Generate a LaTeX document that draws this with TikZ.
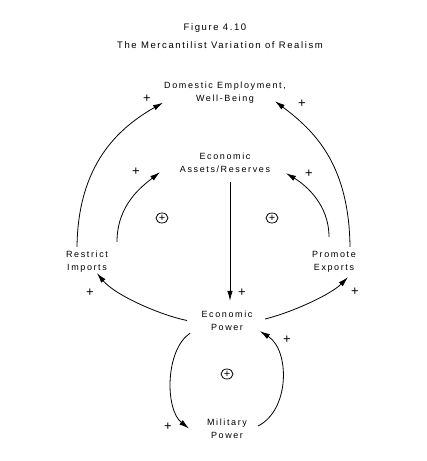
\documentclass[tikz,border=0pt]{standalone}
\usepackage{fontspec}
\usetikzlibrary{arrows.meta,shapes.geometric}
\newfontfamily\ttlfam{Liberation Sans}[LetterSpace=17]
\newfontfamily\lbfam{Liberation Sans}[LetterSpace=18]
\newfontfamily\plfam{Liberation Sans}
\begin{document}
\begin{tikzpicture}[x=1pt, y=1pt,
          tt/.style={font=\fontsize{9.5}{10}\selectfont\ttlfam, inner sep=0pt},
          lb/.style={font=\fontsize{9}{13}\selectfont\lbfam, align=center, inner sep=0pt, minimum height=30pt},
          pl/.style={font=\fontsize{13}{13}\selectfont\plfam, inner sep=0pt},
          lp/.style={pl, draw, ellipse, line width=0.8pt, minimum width=12pt, minimum height=10pt},
          ar/.style={line width=0.8pt, -{Latex[length=10pt,width=5.5pt]}}]
        \useasboundingbox (0,0) rectangle (427,461);
        \node[tt] (fig) at (215,433) {Figure 4.10};
        \node[tt] (sub) at (220,416) {The Mercantilist Variation of Realism};
        \node[lb] (dom) at (225,368.5) {Domestic Employment,\\Well-Being};
        \node[lb] (assets) at (225,298.5) {Economic\\Assets/Reserves};
        \node[lb] (restrict) at (87,199) {Restrict\\Imports};
        \node[lb] (promote) at (334,199) {Promote\\Exports};
        \node[lb] (econ) at (227,140.5) {Economic\\Power};
        \node[lb] (military) at (227,32.5) {Military\\Power};
        \foreach \n/\x/\y in {p1/147/362, p2/302/357, p3/136/289, p4/309/287, p5/90/168,
                              p6/355/169, p7/242/168, p8/168/34, p9/287/121}
          \node[pl] (\n) at (\x,\y) {+};
        \foreach \n/\x/\y in {la/162/243, lb/272/243, lc/227/87}
          \node[lp, font=\fontsize{11}{11}\selectfont\plfam] (\n) at (\x,\y) {+};
        \draw[ar] ([xshift=-10pt]restrict.north) .. controls +(1,82) and +(-45,-25.5) .. ([xshift=-62pt,yshift=5pt]dom.south);
        \draw[ar] ([xshift=30pt,yshift=5pt]restrict.north) .. controls +(0,37) and +(-18,-14) .. ([xshift=-65pt,yshift=5.5pt]assets.south);
        \draw[ar] ([xshift=16pt]promote.north) .. controls +(-1,82) and +(40,-30) .. ([xshift=50pt,yshift=6.5pt]dom.south);
        \draw[ar] ([xshift=-5pt,yshift=10pt]promote.north) .. controls +(0,32) and +(20,-12) .. ([xshift=61pt,yshift=4.5pt]assets.south);
        \draw[ar] ([xshift=5pt,yshift=-4.5pt]assets.south) -- ([xshift=3pt,yshift=4.5pt]econ.north);
        \draw[ar] ([xshift=-40pt]econ.center) .. controls +(-27,5.5) and +(18,-22) .. ([xshift=10pt,yshift=4pt]restrict.south);
        \draw[ar] ([xshift=38pt,yshift=1.5pt]econ.center) .. controls +(25,6) and +(-18,-18) .. ([xshift=14pt]promote.south);
        \draw[ar] ([xshift=-37pt,yshift=2.5pt]econ.south) .. controls +(-25,-17) and +(-24,19) .. ([xshift=-38pt]military.center);
        \draw[ar] ([xshift=31pt,yshift=2.5pt]military.center) .. controls +(32,16) and +(30,-19) .. ([xshift=33pt,yshift=4.5pt]econ.south);
      \end{tikzpicture}
\end{document}
